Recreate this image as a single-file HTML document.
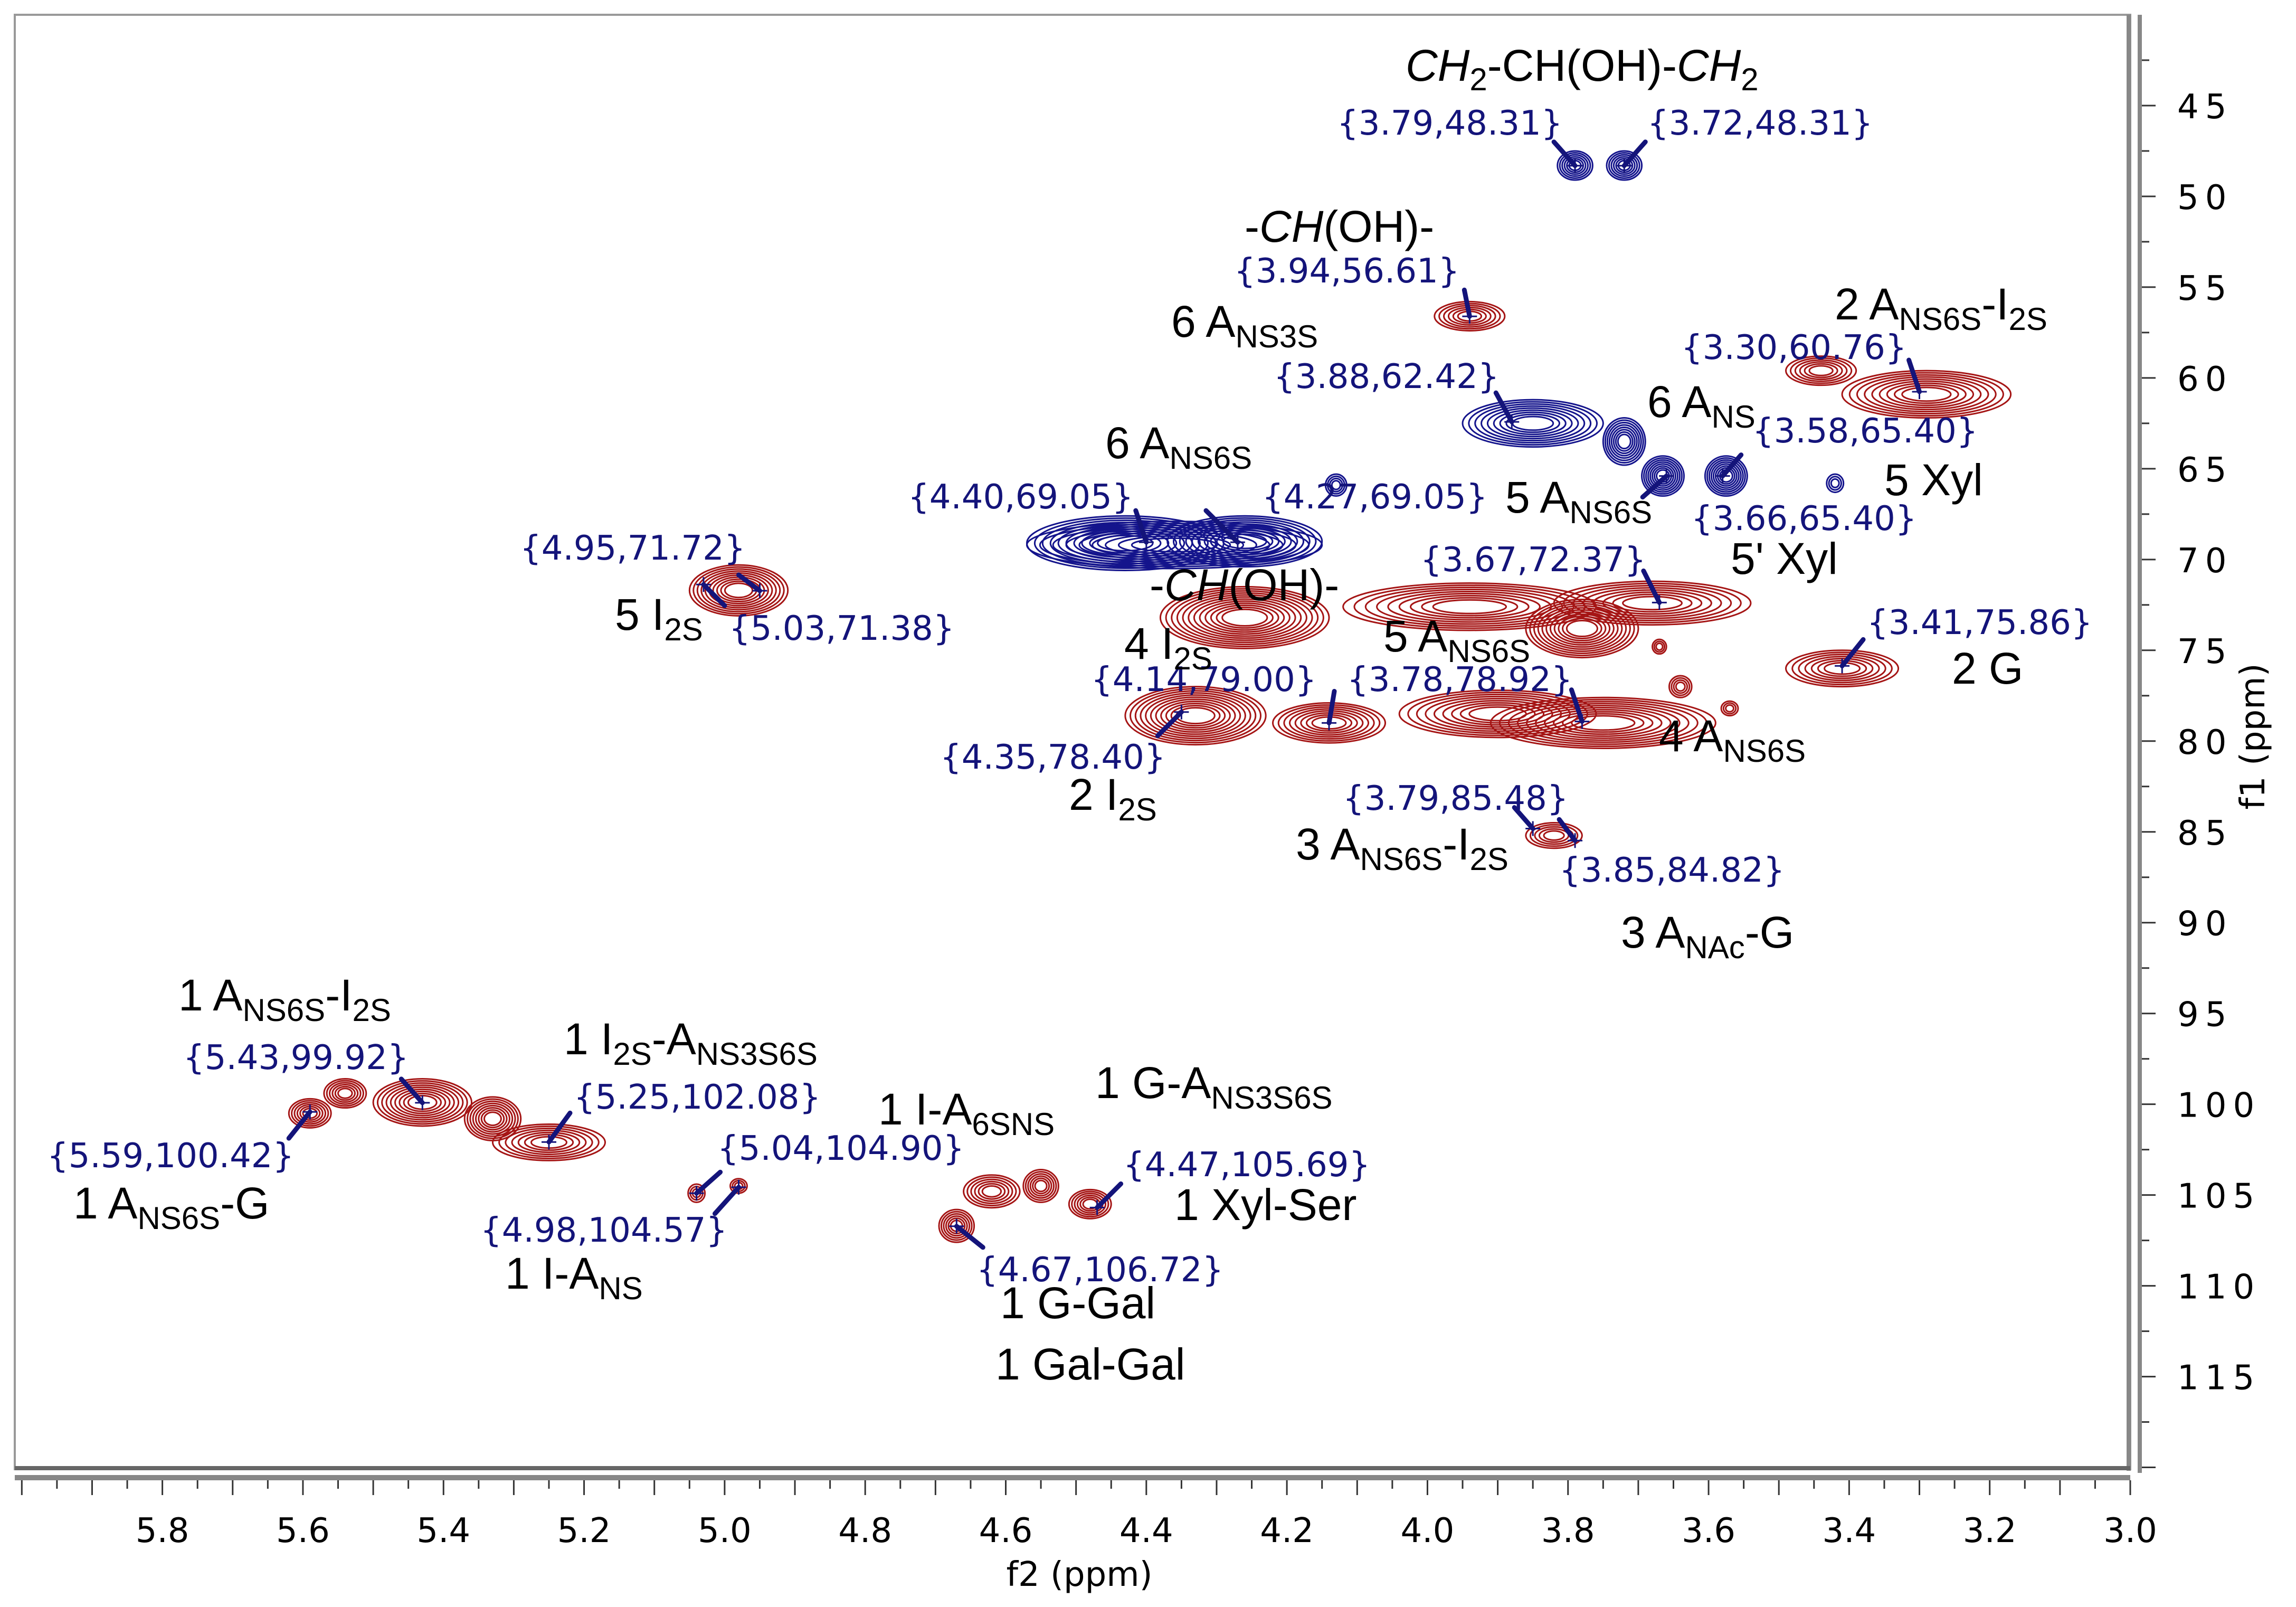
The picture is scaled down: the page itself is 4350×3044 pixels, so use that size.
<!DOCTYPE html>
<html><head><meta charset="utf-8">
<style>
html,body{margin:0;padding:0;background:#fff;}
svg{display:block;}
.ann{font-family:"DejaVu Sans",sans-serif;font-size:64px;fill:#14147a;}
.lbl{font-family:"Liberation Sans",sans-serif;font-size:84px;fill:#000;}
.tick{font-family:"DejaVu Sans",sans-serif;font-size:64px;fill:#000;}
</style></head>
<body>
<svg id="chart" width="4350" height="3044" viewBox="0 0 4350 3044" xmlns="http://www.w3.org/2000/svg">
<rect x="28" y="28" width="4008" height="2755" fill="#fff" stroke="#999" stroke-width="4"/>
<line x1="4033" y1="28" x2="4033" y2="2786" stroke="#888" stroke-width="8"/>
<line x1="28" y1="2781" x2="4036" y2="2781" stroke="#666" stroke-width="8"/>
<g id="contours"></g>
<g id="peaks"></g>
<g id="xaxis"></g>
<g id="yaxis"></g>
<g>
<text class="lbl" x="2663" y="153"><tspan font-style="italic">CH</tspan><tspan font-size="60" dy="18">2</tspan><tspan dy="-18">-CH(OH)-</tspan><tspan font-style="italic">CH</tspan><tspan font-size="60" dy="18">2</tspan></text>
<text class="lbl" x="2358" y="458">-<tspan font-style="italic">CH</tspan>(OH)-</text>
<text class="lbl" x="2219" y="638">6 A<tspan font-size="60" dy="20">NS3S</tspan></text>
<text class="lbl" x="3476" y="605">2 A<tspan font-size="60" dy="20">NS6S</tspan><tspan dy="-20">-I</tspan><tspan font-size="60" dy="20">2S</tspan></text>
<text class="lbl" x="3121" y="790">6 A<tspan font-size="60" dy="20">NS</tspan></text>
<text class="lbl" x="3570" y="938">5 Xyl</text>
<text class="lbl" x="3279" y="1087">5' Xyl</text>
<text class="lbl" x="2094" y="868">6 A<tspan font-size="60" dy="20">NS6S</tspan></text>
<text class="lbl" x="2852" y="971">5 A<tspan font-size="60" dy="20">NS6S</tspan></text>
<text class="lbl" x="1165" y="1193">5 I<tspan font-size="60" dy="20">2S</tspan></text>
<text class="lbl" x="2178" y="1137">-<tspan font-style="italic">CH</tspan>(OH)-</text>
<text class="lbl" x="2130" y="1248">4 I<tspan font-size="60" dy="20">2S</tspan></text>
<text class="lbl" x="2621" y="1234">5 A<tspan font-size="60" dy="20">NS6S</tspan></text>
<text class="lbl" x="3698" y="1295">2 G</text>
<text class="lbl" x="3143" y="1423">4 A<tspan font-size="60" dy="20">NS6S</tspan></text>
<text class="lbl" x="2025" y="1534">2 I<tspan font-size="60" dy="20">2S</tspan></text>
<text class="lbl" x="2455" y="1628">3 A<tspan font-size="60" dy="20">NS6S</tspan><tspan dy="-20">-I</tspan><tspan font-size="60" dy="20">2S</tspan></text>
<text class="lbl" x="3071" y="1795">3 A<tspan font-size="60" dy="20">NAc</tspan><tspan dy="-20">-G</tspan></text>
<text class="lbl" x="338" y="1914">1 A<tspan font-size="60" dy="20">NS6S</tspan><tspan dy="-20">-I</tspan><tspan font-size="60" dy="20">2S</tspan></text>
<text class="lbl" x="1068" y="1997">1 I<tspan font-size="60" dy="20">2S</tspan><tspan dy="-20">-A</tspan><tspan font-size="60" dy="20">NS3S6S</tspan></text>
<text class="lbl" x="1664" y="2130">1 I-A<tspan font-size="60" dy="20">6SNS</tspan></text>
<text class="lbl" x="2075" y="2080">1 G-A<tspan font-size="60" dy="20">NS3S6S</tspan></text>
<text class="lbl" x="2225" y="2311">1 Xyl-Ser</text>
<text class="lbl" x="139" y="2308">1 A<tspan font-size="60" dy="20">NS6S</tspan><tspan dy="-20">-G</tspan></text>
<text class="lbl" x="957" y="2441">1 I-A<tspan font-size="60" dy="20">NS</tspan></text>
<text class="lbl" x="1895" y="2497">1 G-Gal</text>
<text class="lbl" x="1886" y="2613">1 Gal-Gal</text>
</g>
<text class="tick" x="2045" y="3004" text-anchor="middle">f2 (ppm)</text>
<text class="tick" transform="translate(4290,1395) rotate(-90)" text-anchor="middle">f1 (ppm)</text>
</svg>
<script>
// axis domain
const xDomain = [6.01, 3.0];
const yDomain = [40, 120.1];
// tick labels
const xTickLabels = ["5.8","5.6","5.4","5.2","5.0","4.8","4.6","4.4","4.2","4.0","3.8","3.6","3.4","3.2","3.0"];
const yTickLabels = ["45","50","55","60","65","70","75","80","85","90","95","100","105","110","115"];
// red (positive) contour blobs: centre f2, centre f1, half-width f2, half-width f1
const redCx = [3.94,3.29,3.44,4.98,4.26,3.94,3.68,3.78,4.33,4.14,3.90,3.75,3.41,3.64,3.67,3.57,3.82,5.59,5.54,5.43,5.33,5.25,5.04,4.98,4.62,4.55,4.48,4.67];
const redCy = [56.6,60.9,59.6,71.7,73.2,72.6,72.4,73.8,78.6,79.0,78.5,79.0,76.0,77.0,74.8,78.2,85.2,100.5,99.4,99.9,100.8,102.1,104.9,104.5,104.8,104.5,105.5,106.7];
const redRx = [0.05,0.12,0.05,0.07,0.12,0.18,0.14,0.08,0.10,0.08,0.14,0.16,0.08,0.016,0.01,0.012,0.04,0.03,0.03,0.07,0.04,0.08,0.012,0.012,0.04,0.025,0.03,0.025];
const redRy = [0.8,1.3,0.8,1.4,1.7,1.3,1.2,1.6,1.6,1.1,1.3,1.4,1.0,0.6,0.4,0.4,0.7,0.8,0.8,1.3,1.2,1.0,0.5,0.4,0.9,0.9,0.8,0.9];
// blue (negative) contour blobs
const blueCx = [3.79,3.72,3.85,3.72,4.36,4.43,4.26,4.13,3.665,3.575,3.42];
const blueCy = [48.3,48.3,62.5,63.5,69.2,69.1,69.0,65.9,65.4,65.4,65.8];
const blueRx = [0.025,0.025,0.10,0.03,0.21,0.14,0.11,0.015,0.03,0.03,0.012];
const blueRy = [0.8,0.8,1.3,1.3,1.3,1.5,1.4,0.6,1.1,1.1,0.5];
// annotated peaks (f2, f1)
const peakF2 = [3.79,3.72,3.94,3.88,3.30,3.58,3.66,4.40,4.27,3.67,4.95,5.03,4.14,3.78,3.41,4.35,3.79,3.85,5.43,5.25,5.59,5.04,4.47,4.98,4.67];
const peakF1 = [48.31,48.31,56.61,62.42,60.76,65.40,65.40,69.05,69.05,72.37,71.72,71.38,79.00,78.92,75.86,78.40,85.48,84.82,99.92,102.08,100.42,104.90,105.69,104.57,106.72];

const X = v => 4036 - (v - 3.0) / (xDomain[0] - xDomain[1]) * 4008;
const Y = v => 28 + (v - yDomain[0]) / (yDomain[1] - yDomain[0]) * 2755;
const NS = "http://www.w3.org/2000/svg";
const mk = (tag, attrs, parent) => { const e = document.createElementNS(NS, tag); for (const k in attrs) e.setAttribute(k, attrs[k]); parent.appendChild(e); return e; };

const cg = document.getElementById('contours');
function drawBlobs(cx, cy, rx, ry, color, kind) {
  for (let i = 0; i < cx.length; i++) {
    const g = mk('g', {}, cg);
    
    
    const pxr = rx[i] / (xDomain[0] - xDomain[1]) * 4008;
    const pyr = ry[i] / (yDomain[1] - yDomain[0]) * 2755;
    const n = Math.max(3, Math.min(14, Math.round(Math.min(pxr, pyr) / 5)));
    for (let k = 0; k < n; k++) {
      const s = 1 - k * 0.8 / n;
      const e = mk('ellipse', {cx: X(cx[i]), cy: Y(cy[i]), rx: pxr * s, ry: pyr * s, fill: 'none', stroke: color, 'stroke-width': 3}, g);
      
      
    }
  }
}
drawBlobs(redCx, redCy, redRx, redRy, '#a51515', 'positive');
drawBlobs(blueCx, blueCy, blueRx, blueRy, '#14148c', 'negative');

// label placement (layout only): text left/baseline and pointer anchor
const annPos = [[2533,255,-40,-45],[3121,255,40,-45],[2338,535,-10,-50],[2413,735,-30,-55],[3185,680,-20,-60],[3320,838,35,-40],[3204,1004,-45,40],[1720,963,-20,-60],[2391,963,-60,-60],[2691,1082,-30,-60],[985,1060,-40,-30],[1381,1212,40,40],[2067,1309,10,-60],[2552,1309,-20,-60],[3537,1201,40,-50],[1781,1456,-45,45],[2544,1534,-30,-40],[2954,1670,-35,-40],[347,2025,-40,-45],[1087,2100,40,-55],[89,2211,-40,50],[1359,2197,45,-40],[2128,2228,45,-45],[910,2352,-45,50],[1850,2427,50,40]];
const pg = document.getElementById('peaks');
for (let i = 0; i < peakF2.length; i++) {
  const px = X(peakF2[i]), py = Y(peakF1[i]);
  const g = mk('g', {}, pg);
  
  
  const a = annPos[i];
  mk('line', {x1: px + a[2], y1: py + a[3], x2: px, y2: py, stroke: '#14147a', 'stroke-width': 9, 'stroke-linecap': 'round'}, g);
  mk('path', {d: `M${px-14},${py}H${px+14}M${px},${py-14}V${py+14}`, stroke: '#14147a', 'stroke-width': 3}, g);
  const t = mk('text', {x: a[0], y: a[1], class: 'ann'}, g);
  
  
  t.textContent = '{' + peakF2[i].toFixed(2) + ',' + peakF1[i].toFixed(2) + '}';
}

// x axis ruler
const xg = document.getElementById('xaxis');
mk('rect', {x: 28, y: 2794, width: 4008, height: 10, fill: '#888'}, xg);
for (let v = 3.0; v <= 6.0001; v += 0.05) {
  const major = Math.abs(v * 10 - Math.round(v * 10)) < 1e-6;
  mk('line', {x1: X(v), x2: X(v), y1: 2804, y2: 2804 + (major ? 28 : 16), stroke: '#333', 'stroke-width': 3}, xg);
}
xTickLabels.forEach(s => {
  const t = mk('text', {x: X(parseFloat(s)), y: 2921, class: 'tick', 'text-anchor': 'middle'}, xg);
  
  
  t.textContent = s;
});
// y axis ruler
const yg = document.getElementById('yaxis');
mk('rect', {x: 4050, y: 28, width: 8, height: 2762, fill: '#888'}, yg);
for (let v = 42.5; v <= 120; v += 2.5) {
  const major = v % 5 === 0;
  mk('line', {x1: 4058, x2: 4058 + (major ? 26 : 14), y1: Y(v), y2: Y(v), stroke: '#333', 'stroke-width': 3}, yg);
}
yTickLabels.forEach(s => {
  const t = mk('text', {x: 4125, y: Y(parseFloat(s)) + 24, class: 'tick', 'letter-spacing': '12'}, yg);
  
  
  t.textContent = s;
});
</script>
</body></html>
